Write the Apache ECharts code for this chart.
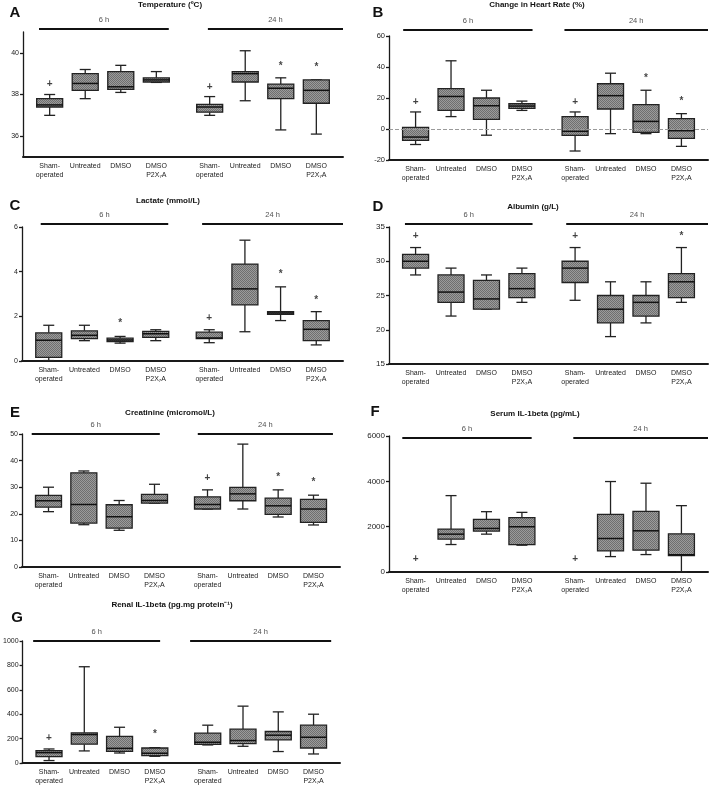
<!DOCTYPE html>
<html><head><meta charset="utf-8">
<script src="https://cdn.jsdelivr.net/npm/echarts@6/dist/echarts.min.js"></script>
<style>html,body{margin:0;padding:0;background:#fff}#c{width:709px;height:787px}</style>
</head><body><div id="c"></div>
<script>
// ---------------- DATA ----------------
const categories = ['Sham-\noperated', 'Untreated', 'DMSO', 'DMSO\nP2X\u2087A'];
const timepoints = ['6 h', '24 h'];
const letters = ['A', 'B', 'C', 'D', 'E', 'F', 'G'];
const titles = ['Temperature (\u00baC)', 'Change in Heart Rate (%)', 'Lactate (mmol/L)', 'Albumin (g/L)',
  'Creatinine (micromol/L)', 'Serum IL-1beta (pg/mL)', 'Renal IL-1beta (pg.mg protein\u207b\u00b9)'];

// each box: [min, Q1, median, Q3, max]; order: 6 h (Sham, Untreated, DMSO, DMSO P2X7A), then 24 h
const temperatureBoxes = [
  [37.0, 37.4, 37.5, 37.8, 38.0], [37.8, 38.2, 38.53, 39.0, 39.2], [38.1, 38.25, 38.37, 39.1, 39.4], [38.58, 38.6, 38.7, 38.8, 39.1],
  [37.0, 37.15, 37.4, 37.53, 37.9], [37.7, 38.6, 39.0, 39.1, 40.1], [36.3, 37.8, 38.3, 38.5, 38.8], [36.1, 37.58, 38.2, 38.7, 38.7]];
const temperatureMarks = [[0, 38.5, '+'], [4, 38.35, '+'], [6, 39.36, '*'], [7, 39.3, '*']];
const temperatureTicks = [36, 38, 40];

const heartRateBoxes = [
  [-10, -7.3, -5.2, 1, 11], [8, 12, 21, 26, 44], [-4, 6.2, 15, 20, 25], [12, 13.3, 14.8, 16.3, 18],
  [-14.2, -4.1, -1.5, 8, 11], [-3, 12.9, 21.5, 29.2, 36], [-3, -2.2, 4.9, 15.7, 25], [-11.2, -6, -1.1, 6.7, 9.9]];
const heartRateMarks = [[0, 17, '+'], [4, 17, '+'], [6, 32.7, '*'], [7, 18, '*']];
const heartRateTicks = [-20, 0, 20, 40, 60];

const lactateBoxes = [
  [0.02, 0.16, 0.93, 1.26, 1.6], [0.91, 1.0, 1.15, 1.35, 1.6], [0.8, 0.87, 0.94, 1.02, 1.1], [0.91, 1.06, 1.22, 1.33, 1.4],
  [0.82, 1.0, 1.03, 1.29, 1.4], [1.31, 2.51, 3.23, 4.34, 5.41], [1.81, 2.09, 2.15, 2.21, 3.32], [0.72, 0.91, 1.42, 1.81, 2.21]];
const lactateMarks = [[2, 1.7, '*'], [4, 1.91, '+'], [6, 3.9, '*'], [7, 2.73, '*']];
const lactateTicks = [0, 2, 4, 6];

const albuminBoxes = [
  [28, 29, 30, 31, 32], [22, 24, 25.5, 28, 29], [23, 23, 24.5, 27.2, 28], [24, 24.7, 26, 28.2, 29],
  [24.3, 26.9, 29, 30, 32], [19, 21, 23, 25, 27], [21, 22, 24, 25, 27], [24, 24.7, 27, 28.2, 32]];
const albuminMarks = [[0, 33.6, '+'], [4, 33.6, '+'], [7, 33.6, '*']];
const albuminTicks = [15, 20, 25, 30, 35];

const creatinineBoxes = [
  [20.8, 22.5, 24.9, 26.9, 30], [15.9, 16.5, 23.5, 35.4, 36.1], [13.8, 14.6, 18.9, 23.4, 25], [24, 24, 25, 27.3, 31.1],
  [21.8, 21.8, 23.5, 26.4, 29], [21.8, 24.9, 27.5, 29.9, 46.2], [18.8, 19.8, 23, 25.9, 29], [15.8, 16.8, 21.8, 25.4, 27]];
const creatinineMarks = [[4, 33.2, '+'], [6, 33.8, '*'], [7, 31.9, '*']];
const creatinineTicks = [0, 10, 20, 30, 40, 50];

const serumIL1Boxes = [
  null, [1212, 1449, 1670, 1892, 3370], [1670, 1803, 1922, 2321, 2661], [1183, 1212, 1996, 2395, 2631],
  null, [680, 931, 1478, 2542, 3991], [769, 961, 1818, 2676, 3917], [0, 720, 760, 1685, 2927]];
const serumIL1Marks = [[0, 562, '+'], [4, 562, '+']];
const serumIL1Ticks = [0, 2000, 4000, 6000];

const renalIL1Boxes = [
  [20, 52, 85, 102, 115], [99, 154, 233, 247, 789], [82, 96, 120, 219, 293], [55, 61, 80, 123, 126],
  [148, 152, 170, 245, 310], [137, 159, 184, 277, 466], [94, 189, 228, 258, 419], [74, 123, 211, 310, 400]];
const renalIL1Marks = [[0, 200, '+'], [3, 233, '*']];
const renalIL1Ticks = [0, 200, 400, 600, 800, 1000];

// ---------------- LAYOUT ----------------
const SLOTS = 18;
const boxSlot = [1, 3, 5, 7, 10, 12, 14, 16];
const FONT = '"Liberation Sans", Arial, Helvetica, sans-serif';

const panelSeries = [
  { boxes: temperatureBoxes, marks: temperatureMarks, ticks: temperatureTicks },
  { boxes: heartRateBoxes, marks: heartRateMarks, ticks: heartRateTicks, zeroLine: true },
  { boxes: lactateBoxes, marks: lactateMarks, ticks: lactateTicks },
  { boxes: albuminBoxes, marks: albuminMarks, ticks: albuminTicks },
  { boxes: creatinineBoxes, marks: creatinineMarks, ticks: creatinineTicks },
  { boxes: serumIL1Boxes, marks: serumIL1Marks, ticks: serumIL1Ticks },
  { boxes: renalIL1Boxes, marks: renalIL1Marks, ticks: renalIL1Ticks }
];
const layouts = [
  { grid: { left: 23, top: 32, width: 320, height: 125 }, range: [35, 41], barPx: 3, spans: [[0.9, 8.2], [10.4, 18]], letter: [15, 13], title: [170, 5], tickFont: 7 },
  { grid: { left: 389, top: 36, width: 319, height: 124 }, range: [-20, 60], barPx: 6, spans: [[0.8, 8.1], [9.9, 18]], letter: [378, 13], title: [537, 5], tickFont: 7.5 },
  { grid: { left: 22, top: 227, width: 321, height: 134 }, range: [0, 6], barPx: 3, spans: [[1.05, 8.2], [10.1, 18]], letter: [15, 206], title: [168, 201], tickFont: 7 },
  { grid: { left: 389, top: 227, width: 319, height: 137 }, range: [15, 35], barPx: 3, spans: [[0.9, 8.1], [10.0, 18]], letter: [378, 207], title: [533, 207], tickFont: 8 },
  { grid: { left: 22, top: 434, width: 318, height: 133 }, range: [0, 50], barPx: 0, spans: [[0.55, 7.8], [9.95, 17.6]], letter: [15, 413], title: [170, 413], tickFont: 7 },
  { grid: { left: 389, top: 436, width: 319, height: 136 }, range: [0, 6000], barPx: -2, spans: [[0.75, 8.05], [10.4, 18]], letter: [375, 412], title: [535, 414], tickFont: 8 },
  { grid: { left: 22, top: 641, width: 318, height: 122 }, range: [0, 1000], barPx: 0, spans: [[0.6, 7.8], [9.5, 17.5]], letter: [17, 618], title: [172, 605], tickFont: 7 }
];

const axisCats = Array.from({ length: SLOTS }, (_, i) => {
  const k = boxSlot.indexOf(i);
  return k < 0 ? '' : categories[k % 4];
});

// fine checker texture for box fill
const pat = document.createElement('canvas');
pat.width = 2; pat.height = 2;
(function () {
  const c = pat.getContext('2d');
  c.fillStyle = '#9b9b9b'; c.fillRect(0, 0, 2, 2);
  c.fillStyle = '#6f6f6f'; c.fillRect(0, 0, 1, 1); c.fillRect(1, 1, 1, 1);
})();
const boxFill = { image: pat, repeat: 'repeat' };

const BOX_HALF = 13, CAP_HALF = 5.5;
function renderBox(params, api) {
  const x = api.value(0);
  const p = [1, 2, 3, 4, 5].map(d => api.coord([x, api.value(d)]));
  const cx = p[0][0];
  const yMin = p[0][1], yQ1 = p[1][1], yMed = p[2][1], yQ3 = p[3][1], yMax = p[4][1];
  const ls = { stroke: '#222', lineWidth: 1.3 };
  return {
    type: 'group', children: [
      { type: 'line', shape: { x1: cx, y1: yMax, x2: cx, y2: yQ3 }, style: ls },
      { type: 'line', shape: { x1: cx, y1: yQ1, x2: cx, y2: yMin }, style: ls },
      { type: 'line', shape: { x1: cx - CAP_HALF, y1: yMax, x2: cx + CAP_HALF, y2: yMax }, style: ls },
      { type: 'line', shape: { x1: cx - CAP_HALF, y1: yMin, x2: cx + CAP_HALF, y2: yMin }, style: ls },
      { type: 'rect', shape: { x: cx - BOX_HALF, y: yQ3, width: 2 * BOX_HALF, height: Math.max(yQ1 - yQ3, 1) }, style: { fill: boxFill, stroke: '#222', lineWidth: 1.3 } },
      { type: 'line', shape: { x1: cx - BOX_HALF, y1: yMed, x2: cx + BOX_HALF, y2: yMed }, style: { stroke: '#111', lineWidth: 1.5 } }
    ]
  };
}

const grids = [], xAxes = [], yAxes = [], series = [], graphics = [];

panelSeries.forEach((p, k) => {
  const L = layouts[k];
  grids.push(Object.assign({ containLabel: false }, L.grid));
  xAxes.push({
    type: 'category', gridIndex: k, data: axisCats,
    axisLine: { onZero: false, lineStyle: { color: '#1a1a1a', width: 2 } },
    axisTick: { show: false },
    axisLabel: { interval: 0, fontSize: 7, lineHeight: 8.5, color: '#222', margin: 5, fontFamily: FONT },
    splitLine: { show: false }
  });
  xAxes.push({ type: 'value', gridIndex: k, min: 0, max: SLOTS, show: false });
  yAxes.push({
    type: 'value', gridIndex: k, min: L.range[0], max: L.range[1],
    axisLine: { show: true, onZero: false, lineStyle: { color: '#1a1a1a', width: 1.3 } },
    axisTick: { show: true, length: 3, customValues: p.ticks, lineStyle: { color: '#1a1a1a', width: 1.3 } },
    axisLabel: { customValues: p.ticks, formatter: v => String(v), fontSize: L.tickFont, color: '#222', margin: 4, fontFamily: FONT },
    splitLine: { show: false }
  });

  const boxData = [];
  p.boxes.forEach((b, i) => { if (b) boxData.push([boxSlot[i]].concat(b)); });
  series.push({
    type: 'custom', xAxisIndex: 2 * k, yAxisIndex: k, silent: true, clip: false,
    encode: { x: 0, y: [1, 2, 3, 4, 5] },
    data: boxData, renderItem: renderBox, z: 3
  });
  if (p.zeroLine) {
    series.push({
      type: 'line', xAxisIndex: 2 * k, yAxisIndex: k, data: [], silent: true, z: 1,
      markLine: {
        silent: true, symbol: 'none', label: { show: false },
        lineStyle: { type: 'dashed', color: '#9a9a9a', width: 1 },
        data: [{ yAxis: 0 }]
      }
    });
  }

  series.push({
    type: 'scatter', xAxisIndex: 2 * k, yAxisIndex: k, silent: true, clip: false,
    symbolSize: 0.1, itemStyle: { color: 'rgba(0,0,0,0)' },
    data: p.marks.map(m => ({ value: [boxSlot[m[0]], m[1]], label: { formatter: m[2] } })),
    label: { show: true, position: 'inside', color: '#111', fontSize: 10, fontWeight: 'bold', fontFamily: FONT }
  });

  const yb = L.range[1] + L.barPx * (L.range[1] - L.range[0]) / L.grid.height;
  L.spans.forEach((s, g) => {
    series.push({
      type: 'line', xAxisIndex: 2 * k + 1, yAxisIndex: k, silent: true, clip: false,
      symbol: 'none', lineStyle: { color: '#111', width: 2 },
      data: [[s[0], yb], [s[1], yb]]
    });
    series.push({
      type: 'scatter', xAxisIndex: 2 * k + 1, yAxisIndex: k, silent: true, clip: false,
      symbolSize: 0.1, itemStyle: { color: 'rgba(0,0,0,0)' },
      data: [[(s[0] + s[1]) / 2, yb]],
      label: { show: true, position: 'top', distance: 5, formatter: timepoints[g], color: '#222', fontSize: 7.5, fontFamily: FONT }
    });
  });

  graphics.push({ type: 'text', x: L.letter[0], y: L.letter[1], style: { text: letters[k], font: 'bold 15px ' + FONT, fill: '#111', textAlign: 'center', textVerticalAlign: 'middle' } });
  graphics.push({ type: 'text', x: L.title[0], y: L.title[1], style: { text: titles[k], font: 'bold 8px ' + FONT, fill: '#111', textAlign: 'center', textVerticalAlign: 'middle' } });
});

const chart = echarts.init(document.getElementById('c'), null, { renderer: 'canvas' });
chart.setOption({
  backgroundColor: '#fff',
  animation: false,
  grid: grids, xAxis: xAxes, yAxis: yAxes, series: series,
  graphic: graphics
});
</script></body></html>
